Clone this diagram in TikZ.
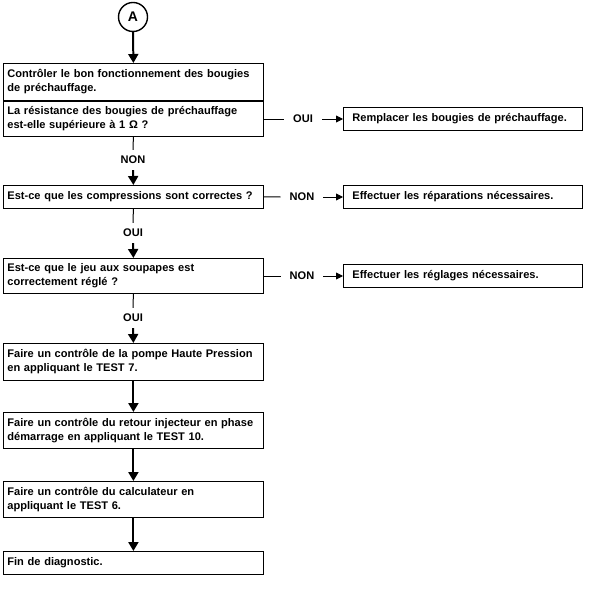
\documentclass[tikz,border=0pt]{standalone}
\usepackage{fontspec}
\setmainfont{Liberation Sans}
\usetikzlibrary{arrows.meta,positioning}

\begin{document}
\begin{tikzpicture}[
  x=1bp, y=-1bp,
  font=\fontsize{11.1}{14}\selectfont\bfseries,
  box/.style={draw, line width=0.8pt, anchor=north west, align=left,
              inner xsep=4bp, inner ysep=0pt, text width=252bp},
  act/.style={draw, line width=0.8pt, anchor=west, align=left,
              inner xsep=9bp, inner ysep=0pt, text width=221bp,
              minimum height=23bp},
  lbl/.style={inner xsep=9bp, inner ysep=6bp},
  link/.style={draw, line width=1pt},
  flow/.style={-{Triangle[length=9bp, width=10bp]}, draw, line width=2pt},
  side/.style={-{Triangle[length=7bp, width=7bp]}, draw, line width=0.9pt},
]
\useasboundingbox (0,0) rectangle (595,590);

% ---- start ------------------------------------------------------------------
\node[draw, circle, line width=1.4pt, minimum size=29bp, inner sep=0pt,
  font=\fontsize{14}{14}\selectfont\bfseries] (start) at (133,17) {A};

% ---- glow plugs -------------------------------------------------------------
\node[box, minimum height=37bp] (ctrl) at (3,63)
  {Contrôler le bon fonctionnement des bougies\\de préchauffage.};
\node[box, minimum height=35bp] (resist) at (ctrl.south west)
  {La résistance des bougies de préchauffage\\est-elle supérieure à 1 Ω ?};
\draw[flow] (start.south) -- (ctrl.north);

\node[lbl] (oui1) at (303,119) {OUI};
\node[act] (plugs) at (343,119) {Remplacer les bougies de préchauffage.};
\draw[link] (resist.east |- oui1) -- (oui1.west);
\draw[side] (oui1.east) -- (plugs.west);

\node[lbl] (non1) at (133,160) {NON};
\draw[link] (resist.south) -- (non1.north);

% ---- compressions -----------------------------------------------------------
\node[box, minimum height=23bp] (compr) at (3,185)
  {Est-ce que les compressions sont correctes ?};
\draw[flow] (non1.south) -- (compr.north);

\node[lbl] (non2) at (302,197) {NON};
\node[act] (repair) at (343,197) {Effectuer les réparations nécessaires.};
\draw[link] (compr.east) -- (non2.west);
\draw[side] (non2.east) -- (repair.west);

\node[lbl] (oui2) at (133,233) {OUI};
\draw[link] (compr.south) -- (oui2.north);

% ---- valve clearance --------------------------------------------------------
\node[box, minimum height=35bp] (jeu) at (3,258)
  {Est-ce que le jeu aux soupapes est\\correctement réglé ?};
\draw[flow] (oui2.south) -- (jeu.north);

\node[lbl] (non3) at (302,276) {NON};
\node[act] (adjust) at (343,276) {Effectuer les réglages nécessaires.};
\draw[link] (jeu.east |- non3) -- (non3.west);
\draw[side] (non3.east) -- (adjust.west);

\node[lbl] (oui3) at (133,318) {OUI};
\draw[link] (jeu.south) -- (oui3.north);

% ---- tests ------------------------------------------------------------------
\node[box, minimum height=37bp] (pompe) at (3,343)
  {Faire un contrôle de la pompe Haute Pression\\en appliquant le TEST 7.};
\draw[flow] (oui3.south) -- (pompe.north);

\node[box, minimum height=36bp] (retour) at (3,412)
  {Faire un contrôle du retour injecteur en phase\\démarrage en appliquant le TEST 10.};
\draw[flow] (pompe.south) -- (retour.north);

\node[box, minimum height=36bp] (calc) at (3,481)
  {Faire un contrôle du calculateur en\\appliquant le TEST 6.};
\draw[flow] (retour.south) -- (calc.north);

\node[box, minimum height=23bp] (fin) at (3,551) {Fin de diagnostic.};
\draw[flow] (calc.south) -- (fin.north);

\end{tikzpicture}
\end{document}
